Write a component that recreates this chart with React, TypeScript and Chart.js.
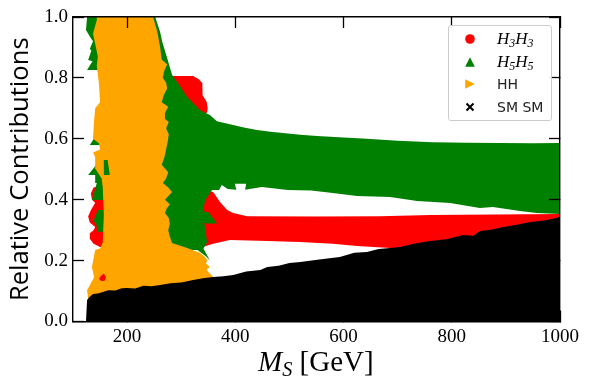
import React, { useEffect, useRef } from "react";
import { Chart, registerables } from "chart.js";

Chart.register(...registerables);
Chart.defaults.font.family = "Liberation Serif";

type Pt = { x: number; y: number };
const pts = (a: number[][]): Pt[] => a.map(([x, y]) => ({ x, y }));

const xTickValues = [200, 400, 600, 800, 1000];
const yTickValues = [0, 0.2, 0.4, 0.6, 0.8, 1.0];

const h3h3Outline = [
  [283, 0.806], [322, 0.806], [332, 0.796], [339, 0.783], [340, 0.755], [339, 0.743], [347, 0.722], [349, 0.700], [348, 0.688],
  [335, 0.66], [345, 0.6], [350, 0.43], [359, 0.425], [372, 0.392], [385, 0.366], [396, 0.356], [422, 0.346], [550, 0.345],
  [667, 0.346], [760, 0.35], [1000, 0.353], [1000, 0.33], [704, 0.24], [686, 0.241], [625, 0.248], [580, 0.255], [520, 0.261],
  [459, 0.264], [390, 0.268], [359, 0.255], [340, 0.245], [320, 0.26], [280, 0.3], [160, 0.3], [157, 0.245], [150, 0.245],
  [138, 0.255], [131, 0.272], [131, 0.29], [138, 0.3], [141, 0.31], [131, 0.325], [128, 0.345], [133, 0.365], [141, 0.39],
  [135, 0.40], [133, 0.42], [138, 0.44], [161, 0.45], [280, 0.45],
];

const h5h5Outline = [
  [126, 1], [252, 1], [261, 0.951], [265, 0.918], [274, 0.865], [283, 0.81], [297, 0.775], [311, 0.737], [335, 0.694],
  [353, 0.678], [366, 0.658], [380, 0.652], [396, 0.645], [418, 0.636], [440, 0.629], [465, 0.623], [488, 0.619], [520, 0.613],
  [551, 0.609], [600, 0.604], [643, 0.6], [700, 0.594], [765, 0.589], [830, 0.587], [889, 0.586], [950, 0.585], [1000, 0.586],
  [1000, 0.353], [957, 0.356], [926, 0.363], [876, 0.376], [852, 0.373], [797, 0.389], [736, 0.396], [686, 0.409], [625, 0.412],
  [580, 0.422], [540, 0.43], [497, 0.432], [449, 0.442], [418, 0.433], [420, 0.452], [399, 0.452], [402, 0.433], [386, 0.435],
  [375, 0.448], [370, 0.432], [357, 0.432], [345, 0.40], [340, 0.365], [345, 0.36], [350, 0.36], [366, 0.322], [336, 0.322],
  [343, 0.32], [348, 0.26], [341, 0.24], [353, 0.2], [345, 0.215], [330, 0.235], [311, 0.235], [200, 0.3], [157, 0.295],
  [146, 0.295], [142, 0.327], [137, 0.327], [146, 0.366], [157, 0.366], [157, 0.399], [135, 0.399], [144, 0.455], [141, 0.455],
  [141, 0.481], [128, 0.481], [150, 0.53], [160, 0.53], [160, 0.58], [131, 0.58], [146, 0.62], [160, 0.62], [160, 0.826],
  [126, 0.826], [136, 0.855], [128, 0.859], [134, 0.89], [131, 0.895], [137, 0.92], [133, 0.93], [124, 0.957],
];

const hhOutline = [
  [144, 1], [248, 1], [256, 0.95], [261, 0.9], [264, 0.86], [274, 0.845], [268, 0.82], [266, 0.8], [272, 0.785], [274, 0.765],
  [268, 0.745], [264, 0.72], [276, 0.705], [270, 0.685], [270, 0.665], [277, 0.655], [272, 0.635], [277, 0.615], [275, 0.59],
  [272, 0.565], [269, 0.54], [264, 0.515], [276, 0.49], [272, 0.47], [266, 0.455], [276, 0.44], [283, 0.425], [275, 0.41],
  [270, 0.4], [279, 0.385], [273, 0.37], [270, 0.356], [277, 0.34], [279, 0.32], [276, 0.3], [279, 0.278], [283, 0.258],
  [311, 0.241], [335, 0.225], [344, 0.212], [348, 0.202], [346, 0.19], [353, 0.179], [347, 0.172], [349, 0.165], [359, 0.146],
  [359, 0.1], [130, 0.05], [126, 0.103], [139, 0.145], [135, 0.179], [141, 0.235], [150, 0.24], [155, 0.26],
  [157, 0.35], [155, 0.44], [153, 0.47], [142, 0.5], [141, 0.54], [137, 0.555], [150, 0.565], [148, 0.585], [137, 0.6],
  [139, 0.66], [141, 0.7], [150, 0.72], [148, 0.78], [144, 0.84], [146, 0.87], [137, 0.945], [144, 0.99],
];

const smOutline = [
  [124, 0], [126, 0.071], [130, 0.08], [137, 0.09], [146, 0.092], [155, 0.097], [165, 0.103], [178, 0.102], [190, 0.109],
  [200, 0.11], [215, 0.108], [230, 0.117], [245, 0.116], [261, 0.12], [280, 0.126], [300, 0.128], [322, 0.136], [340, 0.142],
  [359, 0.146], [378, 0.149], [396, 0.153], [420, 0.164], [446, 0.169], [459, 0.179], [480, 0.183], [500, 0.192], [520, 0.195],
  [555, 0.204], [593, 0.212], [620, 0.226], [643, 0.228], [665, 0.238], [686, 0.241], [704, 0.245], [730, 0.255], [760, 0.264],
  [790, 0.27], [821, 0.284], [840, 0.282], [852, 0.297], [875, 0.302], [895, 0.31], [920, 0.318], [945, 0.327], [970, 0.332],
  [994, 0.34], [1000, 0.346], [1000, 0],
];

// small marks that sit above the HH region in the reference
const h3h3OnTop = [[152, 0.15], [157, 0.158], [161, 0.145], [158, 0.133], [152, 0.133], [148, 0.14]];
const h5h5OnTop = [[157, 0.481], [168, 0.481], [164, 0.53], [157, 0.53]];

export default function App() {
  const ref = useRef<HTMLCanvasElement>(null);
  useEffect(() => {
    const poly = (label: string, data: number[][], color: string, order: number) => ({
      label,
      data: pts(data),
      order,
      showLine: true,
      fill: "shape",
      backgroundColor: color,
      borderColor: color,
      borderWidth: 0,
      pointRadius: 0,
      tension: 0,
    });
    const noPad = (s: any) => { s.paddingLeft = 0; s.paddingRight = 0; s.paddingTop = 0; s.paddingBottom = 0; };
    const setX = (s: any) => { s.ticks = xTickValues.map((value) => ({ value })); };
    const setY = (s: any) => { s.ticks = yTickValues.map((value) => ({ value })); };
    const grid = { drawOnChartArea: false, tickLength: -11, tickWidth: 1.3, tickColor: "#000", z: 2 };
    const border = { color: "#000", width: 1.4, z: 2 };
    const tickFont = { family: "Liberation Serif", size: 19 };
    const chart = new Chart(ref.current!, {
      type: "scatter",
      data: {
        datasets: [
          poly("H3H3", h3h3Outline, "#ff0000", 6),
          poly("H5H5", h5h5Outline, "#008000", 5),
          poly("HH", hhOutline, "#ffa500", 4),
          poly("H3H3 upper", h3h3OnTop, "#ff0000", 3),
          poly("H5H5 upper", h5h5OnTop, "#008000", 2),
          poly("SM SM", smOutline, "#000000", 1),
        ] as any,
      },
      options: {
        animation: false,
        responsive: false,
        layout: { padding: { top: 17, right: 29, left: 0, bottom: 0 } },
        plugins: { legend: { display: false }, tooltip: { enabled: false } },
        scales: {
          x: {
            type: "linear", min: 100, max: 1000, position: "bottom",
            afterBuildTicks: setX, afterFit: (s: any) => { s.height = 68.5; noPad(s); },
            grid, border,
            ticks: { font: tickFont, color: "#000", padding: 15, maxRotation: 0, autoSkip: false, z: 2, callback: (v: any) => String(v) },
          },
          y: {
            type: "linear", min: 0, max: 1, position: "left",
            afterBuildTicks: setY, afterFit: (s: any) => { s.width = 73; noPad(s); },
            grid, border,
            title: { display: true, text: "Relative Contributions", color: "#000", font: { family: "Open Sans", size: 25.6 }, padding: { top: 5, bottom: 0 } },
            ticks: { font: tickFont, color: "#000", padding: 16, autoSkip: false, callback: (v: any) => Number(v).toFixed(1), z: 2 },
          },
          x2: {
            type: "linear", min: 100, max: 1000, position: "top",
            afterBuildTicks: setX, afterFit: (s: any) => { s.height = 0; noPad(s); },
            grid, border, ticks: { display: false },
          },
          y2: {
            type: "linear", min: 0, max: 1, position: "right",
            afterBuildTicks: setY, afterFit: (s: any) => { s.width = 0; noPad(s); },
            grid, border, ticks: { display: false },
          },
        },
      } as any,
    });
    return () => chart.destroy();
  }, []);

  const sans = { position: "absolute", left: 48, fontFamily: "'DejaVu Sans'", fontSize: 14, lineHeight: "16px", color: "#222", whiteSpace: "pre" } as const;
  const math = { ...sans, fontFamily: "'Liberation Serif'", fontStyle: "italic", fontSize: 17, color: "#000" } as const;
  const sub = { fontSize: "70%", verticalAlign: "-3px", lineHeight: 0 } as const;

  return (
    <div style={{ position: "absolute", left: 0, top: 0, width: 589, height: 390, background: "#fff" }}>
      <canvas ref={ref} width={589} height={390} style={{ display: "block" }} />
      <div style={{ position: "absolute", left: 258, top: 343, fontFamily: "'Liberation Serif'", fontSize: 29, lineHeight: "36px", color: "#000", whiteSpace: "pre" }}>
        <i>M<span style={{ fontSize: "70%", verticalAlign: "-5px", lineHeight: 0 }}>S</span></i> [GeV]
      </div>
      <div style={{ position: "absolute", left: 448, top: 25, width: 104, height: 96, boxSizing: "border-box", background: "rgba(255,255,255,0.9)", border: "1px solid #ccc", borderRadius: 3 }}>
        <svg width="40" height="93" style={{ position: "absolute", left: 0, top: 0 }}>
          <circle cx="21" cy="13" r="4.8" fill="#ff0000" />
          <path d="M16.2 40.8 L21 31.2 L25.8 40.8 Z" fill="#008000" />
          <path d="M16.2 53.2 L25.8 58 L16.2 62.8 Z" fill="#ffa500" />
          <path d="M17.5 77.5 L24.5 84.5 M24.5 77.5 L17.5 84.5" stroke="#000" strokeWidth="2" fill="none" />
        </svg>
        <div style={{ ...math, top: 5 }}>H<span style={sub}>3</span>H<span style={sub}>3</span></div>
        <div style={{ ...math, top: 28 }}>H<span style={sub}>5</span>H<span style={sub}>5</span></div>
        <div style={{ ...sans, top: 50 }}>HH</div>
        <div style={{ ...sans, top: 73 }}>SM SM</div>
      </div>
    </div>
  );
}
